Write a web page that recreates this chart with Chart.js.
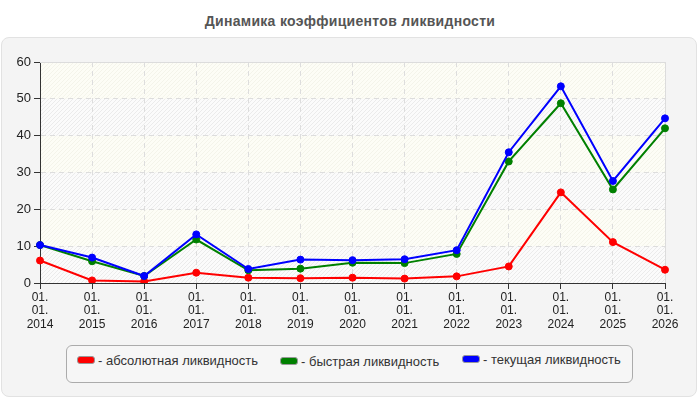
<!DOCTYPE html>
<html>
<head>
<meta charset="utf-8">
<script src="https://cdn.jsdelivr.net/npm/chart.js@4.4.1/dist/chart.umd.min.js"></script>
<style>
  html, body { margin: 0; padding: 0; background: #ffffff; }
  body { width: 700px; height: 400px; position: relative; overflow: hidden; font-family: "Liberation Sans", Arial, sans-serif; }
  #title { position: absolute; left: 0; top: 13px; width: 700px; text-align: center; font-weight: bold; font-size: 14px; letter-spacing: 0.3px; color: #555; }
  #panel { position: absolute; left: 1px; top: 37px; width: 694px; height: 358px; background: #f4f4f4; border: 1px solid #e2e2e2; border-radius: 8px; }
  #chart { position: absolute; left: 0; top: 0; }
  #legend { position: absolute; left: 66px; top: 345px; width: 565px; height: 36px; border: 1px solid #ababab; border-radius: 6px; background: #f6f6f6; }
  .item { position: absolute; top: 7px; font-size: 13px; color: #333; white-space: nowrap; }
  .sw { display: inline-block; width: 16px; height: 6px; border: 1px solid #999; border-radius: 3px; margin-right: 3px; vertical-align: 1px; }
</style>
</head>
<body>
<div id="title">Динамика коэффициентов ликвидности</div>
<div id="panel"></div>
<canvas id="chart" width="700" height="400"></canvas>
<div id="legend"></div>
<script>
const years = ['2014','2015','2016','2017','2018','2019','2020','2021','2022','2023','2024','2025','2026'];
const absoluteLiquidity = [6.1, 0.7, 0.4, 2.8, 1.45, 1.3, 1.45, 1.2, 1.8, 4.5, 24.6, 11.1, 3.6];
const quickLiquidity    = [10.3, 5.9, 1.9, 11.8, 3.45, 3.9, 5.5, 5.4, 7.9, 33.0, 48.8, 25.4, 42.0];
const currentLiquidity  = [10.3, 6.9, 1.9, 13.2, 3.8, 6.35, 6.2, 6.45, 8.9, 35.5, 53.4, 27.7, 44.7];
const seriesNames = ['- абсолютная ликвидность', '- быстрая ликвидность', '- текущая ликвидность'];
const seriesColors = ['#ff0000', '#008000', '#0000ff'];
const yTicks = [0, 10, 20, 30, 40, 50, 60];

const labels = years.map(y => ['01.', '01.', y]);

// legend (HTML)
const legendEl = document.getElementById('legend');
const legendX = [10, 213, 395];
const legendY = [7, 8, 6];
seriesNames.forEach((n, i) => {
  const d = document.createElement('div');
  d.className = 'item';
  d.style.left = legendX[i] + 'px';
  d.style.top = legendY[i] + 'px';
  d.innerHTML = '<span class="sw" style="background:' + seriesColors[i] + '"></span>' + n;
  legendEl.appendChild(d);
});

// hatch patterns for plot background bands
function makePattern(ctx, base, stripe) {
  const c = document.createElement('canvas');
  c.width = 4; c.height = 4;
  const p = c.getContext('2d');
  p.fillStyle = base;
  p.fillRect(0, 0, 4, 4);
  p.strokeStyle = stripe;
  p.lineWidth = 1;
  p.beginPath();
  p.moveTo(-1, 5); p.lineTo(5, -1);
  p.moveTo(3, 5); p.lineTo(5, 3);
  p.moveTo(-1, 1); p.lineTo(1, -1);
  p.stroke();
  return ctx.createPattern(c, 'repeat');
}

const plotBg = {
  id: 'plotBg',
  beforeDraw(chart) {
    const {ctx, chartArea: a} = chart;
    const ys = chart.scales.y;
    const cream = makePattern(ctx, '#fdfdf6', 'rgba(236,236,222,0.5)');
    const grey = makePattern(ctx, '#fbfbfb', 'rgba(222,222,222,0.55)');
    ctx.save();
    for (let i = 0; i < yTicks.length - 1; i++) {
      const y0 = ys.getPixelForValue(yTicks[i]);
      const y1 = ys.getPixelForValue(yTicks[i + 1]);
      ctx.fillStyle = (i % 2 === 0) ? grey : cream;
      ctx.fillRect(a.left, y1, a.right - a.left, y0 - y1);
    }
    ctx.restore();
  },
  beforeDatasetsDraw(chart) {
    const {ctx, chartArea: a} = chart;
    ctx.save();
    ctx.strokeStyle = '#dcdcdc';
    ctx.lineWidth = 1;
    ctx.beginPath();
    ctx.moveTo(a.left, a.top + 0.5);
    ctx.lineTo(a.right + 0.5, a.top + 0.5);
    ctx.lineTo(a.right + 0.5, a.bottom);
    ctx.stroke();
    ctx.restore();
  }
};

const dataSets = [absoluteLiquidity, quickLiquidity, currentLiquidity].map((d, i) => ({
  label: seriesNames[i],
  data: d,
  borderColor: seriesColors[i],
  backgroundColor: seriesColors[i],
  pointBackgroundColor: seriesColors[i],
  pointBorderColor: seriesColors[i],
  pointRadius: 3.5,
  pointBorderWidth: 1,
  borderWidth: 2,
  tension: 0,
  fill: false,
  order: 2 - i
}));

new Chart(document.getElementById('chart'), {
  type: 'line',
  data: { labels: labels, datasets: dataSets },
  plugins: [plotBg],
  options: {
    responsive: false,
    animation: false,
    devicePixelRatio: 1,
    layout: { padding: { left: 0, right: 35, top: 62, bottom: 67 } },
    plugins: { legend: { display: false }, tooltip: { enabled: false }, title: { display: false } },
    scales: {
      x: {
        offset: false,
        afterFit(s) { s.height = 50; },
        grid: { color: '#dddddd', lineWidth: 1, tickLength: 6, tickColor: '#333333', drawOnChartArea: true },
        border: { color: '#333333', width: 1, dash: [5, 4] },
        ticks: {
          autoSkip: false, maxRotation: 0, minRotation: 0, padding: 2,
          color: '#222222',
          font: { family: '"Liberation Sans", Arial, sans-serif', size: 12, lineHeight: 1.12 }
        }
      },
      y: {
        min: 0, max: 60,
        afterFit(s) { s.width = 40; },
        afterBuildTicks(s) { s.ticks = yTicks.map(v => ({ value: v })); },
        grid: { color: '#dddddd', lineWidth: 1, tickLength: 6, tickColor: '#333333' },
        border: { color: '#333333', width: 1, dash: [5, 4] },
        ticks: {
          padding: 3, color: '#222222',
          font: { family: '"Liberation Sans", Arial, sans-serif', size: 13 }
        }
      }
    }
  }
});
</script>
</body>
</html>
